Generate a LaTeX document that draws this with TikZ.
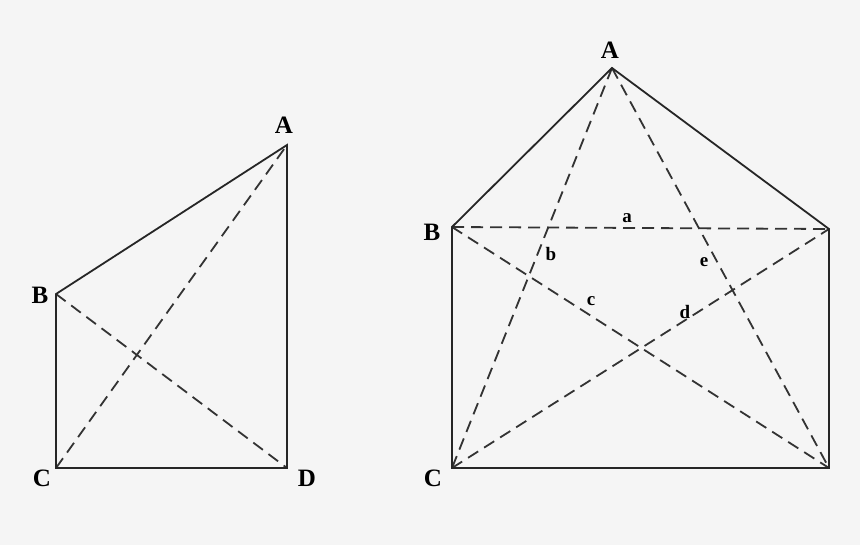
\documentclass[tikz,border=0pt]{standalone}
\usepackage{fontspec}
\setmainfont{Liberation Serif}
\begin{document}
\begin{tikzpicture}[x=1pt,y=-1pt,
  edge/.style={line width=1.8pt,draw=black!85},
  dashedge/.style={line width=1.8pt,draw=black!80,dash pattern=on 12pt off 7pt},
  vlabel/.style={font=\fontsize{25}{25}\selectfont\bfseries,text=black,inner sep=0pt},
  elabel/.style={font=\fontsize{19}{19}\selectfont\bfseries,text=black,inner sep=0pt}]
\fill[black!4] (0,0) rectangle (860,545);
\useasboundingbox (0,0) rectangle (860,545);
% left figure
\coordinate (LA) at (287,145);
\coordinate (LB) at (56,294);
\coordinate (LC) at (56,468);
\coordinate (LD) at (287,468);
\draw[dashedge] (LB) -- (LD);
\draw[dashedge] (LC) -- (LA);
\draw[edge,line join=miter] (LB) -- (LA) -- (LD) -- (LC) -- cycle;
\node[vlabel] (tLA) at (284,125) {A};
\node[vlabel] (tLB) at (40,295) {B};
\node[vlabel] (tLC) at (42,478) {C};
\node[vlabel] (tLD) at (307,478) {D};
% right figure
\coordinate (RA) at (612,68);
\coordinate (RB) at (452,227);
\coordinate (RC) at (452,468);
\coordinate (RD) at (829,468);
\coordinate (RE) at (829,229);
\draw[dashedge] (RB) -- (RE);
\draw[dashedge] (RA) -- (RC);
\draw[dashedge] (RB) -- (RD);
\draw[dashedge] (RC) -- (RE);
\draw[dashedge] (RA) -- (RD);
\draw[edge,line join=miter] (RA) -- (RE) -- (RD) -- (RC) -- (RB) -- cycle;
\node[vlabel] (tRA) at (610,50) {A};
\node[vlabel] (tRB) at (432,232) {B};
\node[vlabel] (tRC) at (433,478) {C};
\node[elabel] (ta) at (627,218) {a};
\node[elabel] (tb) at (551,254) {b};
\node[elabel] (tc) at (591,301) {c};
\node[elabel] (td) at (685,312) {d};
\node[elabel] (te) at (704,262) {e};
\end{tikzpicture}
\end{document}
